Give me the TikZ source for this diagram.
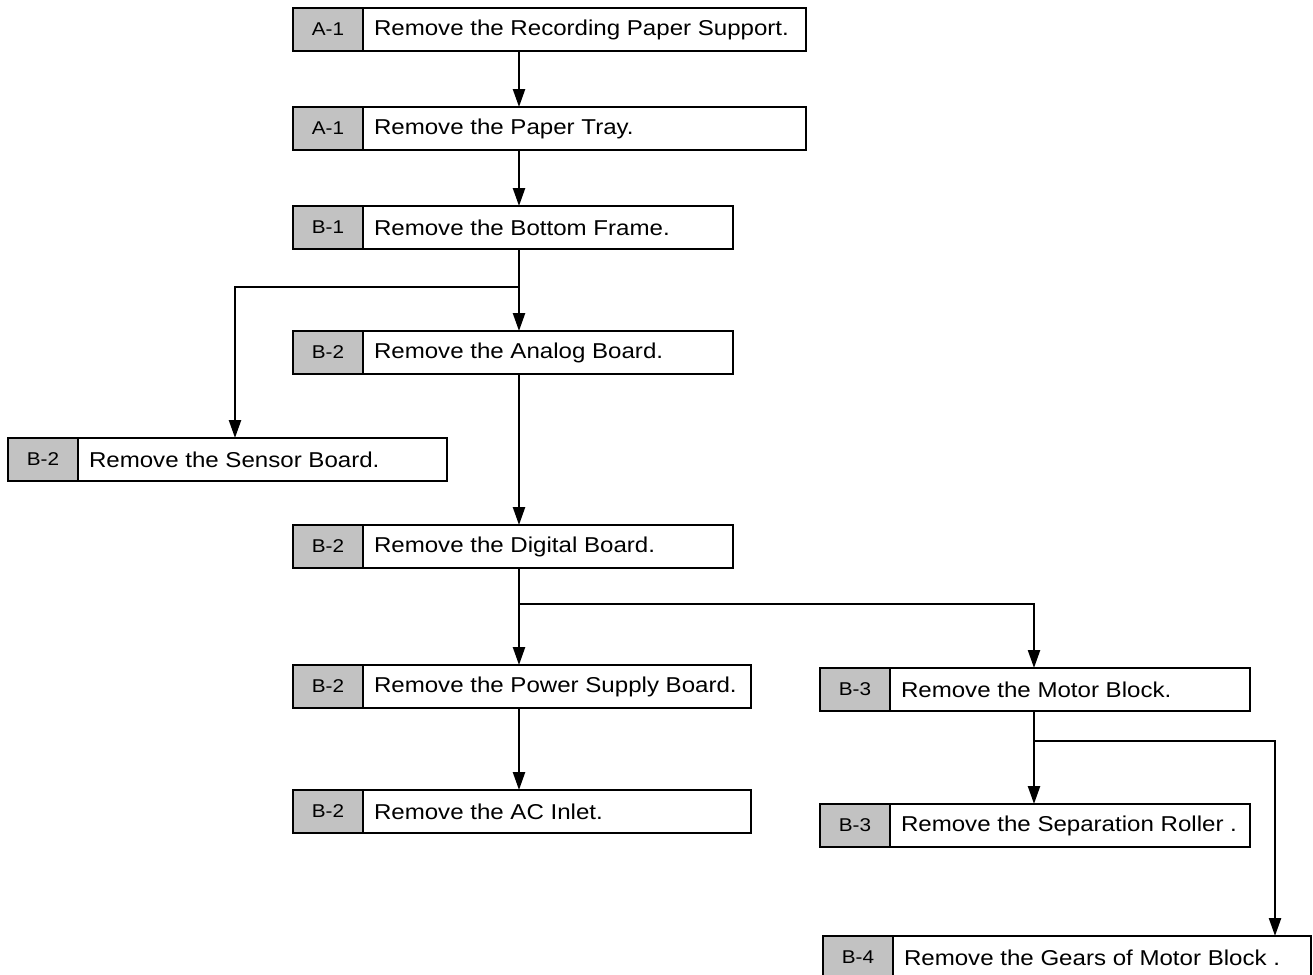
\documentclass[tikz,border=0pt]{standalone}
\usepackage{fontspec}
\newfontfamily\boxfont[FakeStretch=1.12]{Liberation Sans}
\usetikzlibrary{arrows.meta}

\tikzset{
  stepframe/.style={draw=black, line width=2.8pt, fill=white, minimum height=43pt,
                    inner sep=0pt, outer sep=0pt},
  steptag/.style={draw=black, line width=2.8pt, fill=gray!48, minimum width=70pt,
                  minimum height=43pt, inner sep=0pt, outer sep=0pt,
                  font=\boxfont\fontsize{18.5pt}{20pt}\selectfont},
  steptext/.style={inner sep=0pt, outer sep=0pt,
                   font=\boxfont\fontsize{21.5pt}{24pt}\selectfont},
  flow/.style={draw=black, line width=2.4pt,
               -{Triangle[length=18pt, width=12pt]}},
}

% one procedure step: name, left, top, right, tag, text
\newcommand\flowstep[6]{%
  \node[stepframe, minimum width={#4-#2}, anchor=north west] (#1) at (#2,#3) {};
  \node[steptag, anchor=north west] (#1-tag) at (#1.north west) {#5};
  \node[steptext, anchor=west] (#1-text) at ([xshift=11pt]#1-tag.east) {#6};
}

\begin{document}
\begin{tikzpicture}[x=1pt, y=-1pt]
  \useasboundingbox (0,0) rectangle (1313,974);
  \clip (0,0) rectangle (1313,974);

  % steps
  \flowstep{rps}{293}{8}{806}{A-1}{Remove the Recording Paper Support.}
  \flowstep{tray}{293}{107}{806}{A-1}{Remove the Paper Tray.}
  \flowstep{frame}{293}{206}{733}{B-1}{Remove the Bottom Frame.}
  \flowstep{analog}{293}{331}{733}{B-2}{Remove the Analog Board.}
  \flowstep{sensor}{8}{438}{447}{B-2}{Remove the Sensor Board.}
  \flowstep{digital}{293}{525}{733}{B-2}{Remove the Digital Board.}
  \flowstep{power}{293}{665}{751}{B-2}{Remove the Power Supply Board.}
  \flowstep{acin}{293}{790}{751}{B-2}{Remove the AC Inlet.}
  \flowstep{motor}{820}{668}{1250}{B-3}{Remove the Motor Block.}
  \flowstep{roller}{820}{804}{1250}{B-3}{Remove the Separation Roller .}
  \flowstep{gears}{823}{936}{1311}{B-4}{Remove the Gears of Motor Block .}

  % columns and junctions of the connectors
  \coordinate (trunk) at (519,0);
  \coordinate (sensorcol) at (235,0);
  \coordinate (motorcol) at (1034,0);
  \coordinate (gearcol) at (1275,0);
  \coordinate (jsensor) at (519,287);
  \coordinate (jmotor) at (519,604);
  \coordinate (jgears) at (1034,741);

  % main line
  \draw[flow] (rps.south -| trunk) -- (tray.north -| trunk);
  \draw[flow] (tray.south -| trunk) -- (frame.north -| trunk);
  \draw[flow] (frame.south -| trunk) -- (analog.north -| trunk);
  \draw[flow] (analog.south -| trunk) -- (digital.north -| trunk);
  \draw[flow] (digital.south -| trunk) -- (power.north -| trunk);
  \draw[flow] (power.south -| trunk) -- (acin.north -| trunk);

  % side branches
  \draw[flow] (jsensor) -| (sensor.north -| sensorcol);
  \draw[flow] (jmotor) -| (motor.north -| motorcol);
  \draw[flow] (motor.south -| motorcol) -- (roller.north -| motorcol);
  \draw[flow] (jgears) -| (gears.north -| gearcol);
\end{tikzpicture}
\end{document}
